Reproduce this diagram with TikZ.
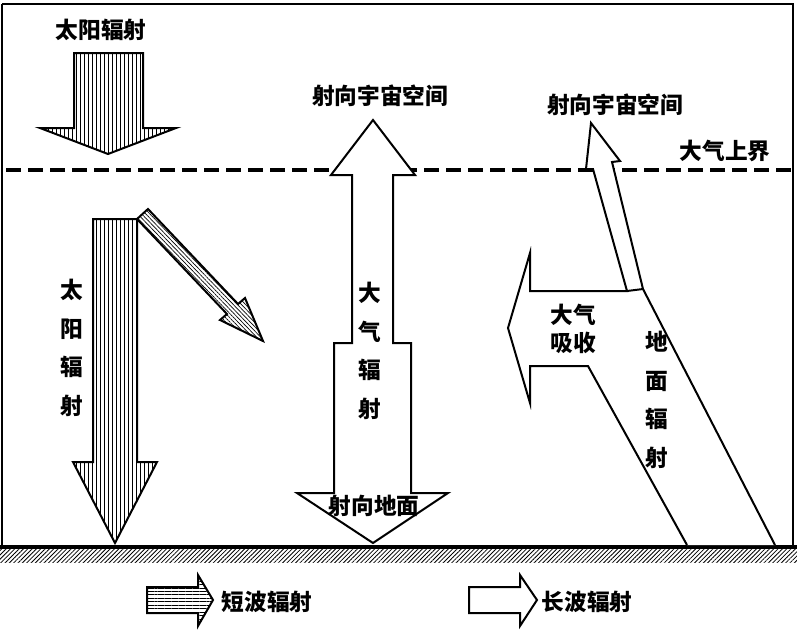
\documentclass[tikz,border=0pt]{standalone}
\usepackage{fontspec}
\setmainfont{Noto Sans CJK SC}
\usetikzlibrary{patterns,patterns.meta}
\tikzset{
  lbl/.style={font=\fontsize{17}{20}\selectfont\bfseries, inner sep=0pt},
  vlbl/.style={lbl, align=center, font=\fontsize{17}{29}\selectfont\bfseries},
  arr/.style={draw=black, line width=1.5pt, line join=miter},
  lw/.style={arr, fill=white},
  swv/.style={arr, fill=white, postaction={pattern={Lines[angle=90,distance=3pt,line width=0.6pt]}}},
  swd/.style={arr, fill=white, postaction={pattern={Lines[angle=-46,distance=2.2pt,line width=0.5pt]}}},
  swh/.style={arr, fill=white, postaction={pattern={Lines[angle=0,distance=2.6pt,line width=0.6pt]}}},
}
\begin{document}
\begin{tikzpicture}[x=0.75pt,y=-0.75pt]
\useasboundingbox (0,0) rectangle (797,633);
% ground hatch
\fill[pattern={Lines[angle=45,distance=2.3pt,line width=0.6pt]}] (0,549) rectangle (797,562);
% frame
\draw[line width=2pt] (2,4) -- (793,4) -- (793,547);
\draw[line width=2pt] (2,4) -- (2,547);
\draw[line width=2.4pt] (0,547) -- (797,547);
% dashed top of atmosphere
\draw[line width=2.3pt, dash pattern=on 11pt off 5.5pt] (6,170) -- (792,170);
% short-wave arrows
\draw[swv] (74,53) -- (143,53) -- (143,128) -- (176,128) -- (108,154) -- (40,128) -- (74,128) -- cycle;
\draw[swv] (93,219) -- (137,219) -- (137,462) -- (157,462) -- (115,543) -- (73,462) -- (93,462) -- cycle;
\draw[swd] (148,209) -- (238,304) -- (245,298) -- (263,341) -- (220,320) -- (227,314) -- (137,219) -- cycle;
% atmospheric radiation arrow
\draw[lw] (373,120) -- (415,175) -- (393,175) -- (393,343) -- (411,343) -- (411,493) -- (448,493) -- (373,543) -- (297,493) -- (334,493) -- (334,343) -- (352,343) -- (352,175) -- (331,175) -- cycle;
% ground radiation
\fill[white] (775,545) -- (643,289) -- (612,162) -- (620,161) -- (591,123) -- (586,169) -- (593,169) -- (627,291) -- (530,291) -- (530,253) -- (508,328) -- (530,403) -- (530,366) -- (588,366) -- (687,545) -- cycle;
\draw[arr] (775,545) -- (643,289) -- (612,162) -- (620,161) -- (591,123) -- (586,169) -- (593,169) -- (627,291) -- (530,291) -- (530,253) -- (508,328) -- (530,403) -- (530,366) -- (588,366) -- (687,545);
\draw[arr] (627,291) -- (643,289);
% legend
\draw[swh] (147,587) -- (198,587) -- (198,575) -- (213,600) -- (198,626) -- (198,613) -- (147,613) -- cycle;
\draw[lw] (469,587) -- (520,587) -- (520,575) -- (537,600) -- (520,626) -- (520,613) -- (469,613) -- cycle;
% labels
\node[lbl] (t1) at (101,30) {太阳辐射};
\node[lbl] (t2) at (380,96) {射向宇宙空间};
\node[lbl] (t3) at (615,105) {射向宇宙空间};
\node[lbl] (t4) at (725,151) {大气上界};
\node[vlbl] (t5) at (72,348) {太\\阳\\辐\\射};
\node[vlbl] (t6) at (370,351) {大\\气\\辐\\射};
\node[lbl] (t7) at (374,506) {射向地面};
\node[lbl, align=center, font=\fontsize{17}{21}\selectfont\bfseries] (t8) at (573,329) {大气\\吸收};
\node[vlbl] (t9) at (657,400) {地\\面\\辐\\射};
\node[lbl] (t10) at (267,602) {短波辐射};
\node[lbl] (t11) at (587,602) {长波辐射};
\end{tikzpicture}
\end{document}
